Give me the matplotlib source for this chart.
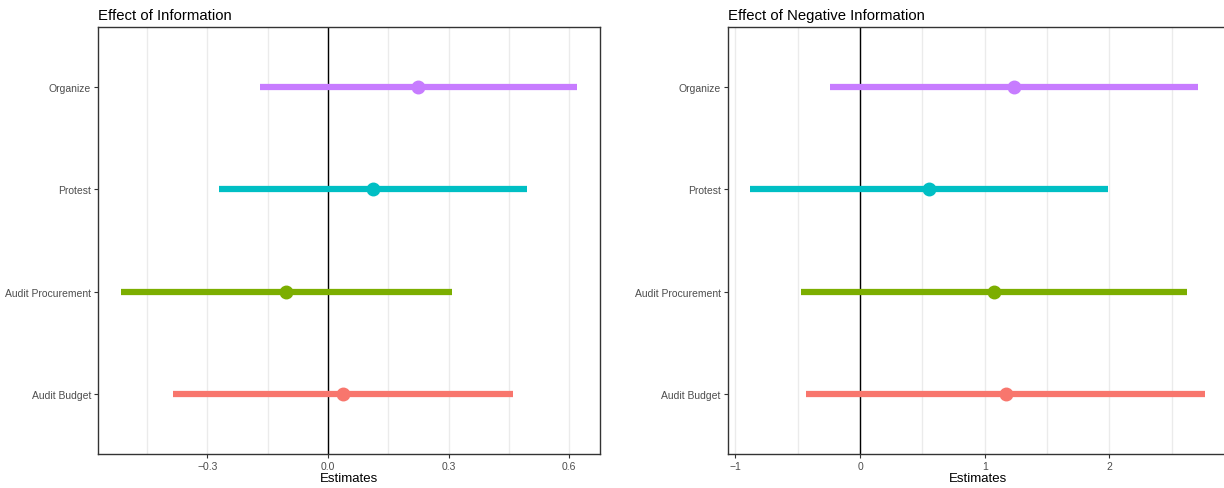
import matplotlib.pyplot as plt

plt.rcParams['font.family'] = ['Liberation Sans', 'DejaVu Sans']

categories = ["Audit Budget", "Audit Procurement", "Protest", "Organize"]
colors = ["#F8766D", "#7CAE00", "#00BFC4", "#C77CFF"]

# Effect of Information
info_est = [0.037, -0.103, 0.112, 0.225]
info_lo = [-0.385, -0.515, -0.27, -0.17]
info_hi = [0.46, 0.308, 0.495, 0.62]

# Effect of Negative Information
neg_est = [1.17, 1.075, 0.553, 1.235]
neg_lo = [-0.43, -0.47, -0.88, -0.24]
neg_hi = [2.77, 2.62, 1.99, 2.71]

panels = [
    ("Effect of Information", info_est, info_lo, info_hi,
     [-0.3, 0.0, 0.3, 0.6], ["\u22120.3", "0.0", "0.3", "0.6"], [-0.45, -0.15, 0.15, 0.45]),
    ("Effect of Negative Information", neg_est, neg_lo, neg_hi,
     [-1, 0, 1, 2], ["\u22121", "0", "1", "2"], [-0.5, 0.5, 1.5, 2.5]),
]

fig = plt.figure(figsize=(12.24, 4.89), dpi=100)
boxes = [[98 / 1224, 34 / 489, 502 / 1224, 427 / 489],
         [727.6 / 1224, 34 / 489, 500.4 / 1224, 427 / 489]]

for box, (title, est, lo, hi, ticks, labels, minor) in zip(boxes, panels):
    ax = fig.add_axes(box)
    ys = range(1, len(categories) + 1)
    for y, e, l, h, c in zip(ys, est, lo, hi, colors):
        ax.plot([l, h], [y, y], color=c, lw=4.5, solid_capstyle="butt", zorder=3)
        ax.plot(e, y, "o", color=c, ms=9, zorder=4)
    ax.axvline(0, color="black", lw=1, zorder=2)
    # expand x range by 5% like ggplot
    xmin, xmax = min(lo), max(hi)
    pad = (xmax - xmin) * 0.05
    ax.set_xlim(xmin - pad, xmax + pad)
    ax.set_ylim(0.42, 4.58)
    ax.set_xticks(ticks)
    ax.set_xticklabels(labels)
    ax.set_xticks(minor, minor=True)
    ax.set_yticks(list(ys))
    ax.set_yticklabels(categories)
    ax.grid(axis="x", which="both", color="#EBEBEB", lw=1, zorder=0)
    ax.tick_params(axis="both", which="major", length=3, width=0.8, color="#333333",
                   labelsize=7.5, labelcolor="#4D4D4D", pad=2)
    ax.tick_params(axis="x", which="minor", length=0)
    for s in ax.spines.values():
        s.set_color("#333333")
        s.set_linewidth(1)
    ax.set_xlabel("Estimates", fontsize=9.5, labelpad=1)
    ax.set_title(title, loc="left", fontsize=10.7, pad=6)

fig.savefig("out.png", dpi=100)
